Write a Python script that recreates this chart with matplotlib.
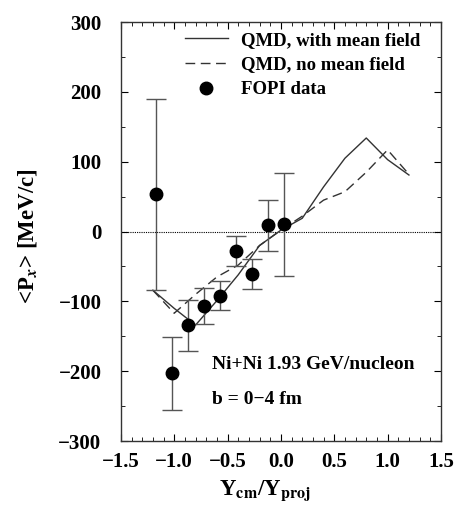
import matplotlib
matplotlib.use("Agg")
import matplotlib.pyplot as plt
from matplotlib.legend_handler import HandlerLine2D
from matplotlib.ticker import MultipleLocator

# QMD curves (rapidity bins)
y_qmd = [-1.2, -1.0, -0.8, -0.6, -0.4, -0.2, 0.0, 0.2, 0.4, 0.6, 0.8, 1.0, 1.2]
px_mf = [-84, -110, -134, -99, -62, -20, 2, 19, 64, 105, 134, 103, 81]
px_nomf = [-84, -117, -90, -65, -48, -20, 2, 22, 45, 57, 85, 117, 82]

# FOPI data
y_fopi = [-1.175, -1.025, -0.875, -0.725, -0.575, -0.425, -0.275, -0.125, 0.025]
px_fopi = [54, -203, -134, -107, -93, -28, -61, 9, 11]
px_hi = [190, -151, -98, -81, -71, -7, -40, 45, 84]
px_lo = [-84, -256, -171, -133, -113, -49, -82, -28, -63]


class MarkerRight(HandlerLine2D):
	# put the single legend marker at the right end of the handle
	def get_xdata(self, legend, xdescent, ydescent, width, height, fontsize):
		xd, xm = super().get_xdata(legend, xdescent, ydescent, width, height, fontsize)
		return xd, [-xdescent + width]


def main():
	plt.rcParams['font.family'] = ['Liberation Serif', 'DejaVu Serif']
	plt.rcParams['font.weight'] = 'bold'
	plt.rcParams['mathtext.fontset'] = 'stix'

	fig = plt.figure(figsize=(4.56, 5.14), dpi=100)
	ax = fig.add_axes([0.265, 0.142, 0.702, 0.815])

	ax.axhline(0, color='black', lw=0.8, ls=(0, (1, 1)))

	l1, = ax.plot(y_qmd, px_mf, color='#333333', lw=1.0, label='QMD, with mean field')
	l2, = ax.plot(y_qmd, px_nomf, color='#333333', lw=1.0, ls=(0, (7, 4)), label='QMD, no mean field')

	err_lo = [p - l for p, l in zip(px_fopi, px_lo)]
	err_hi = [h - p for p, h in zip(px_fopi, px_hi)]
	ax.errorbar(y_fopi, px_fopi, yerr=[err_lo, err_hi], fmt='o', color='black',
				ms=9, ecolor='#555555', elinewidth=1.0, capsize=7, capthick=1.0, zorder=3)
	l3, = ax.plot([], [], 'o', color='black', ms=9, label='FOPI data')

	ax.text(-0.65, -191, 'Ni+Ni 1.93 GeV/nucleon', fontsize=14, fontweight='bold', va='center')
	ax.text(-0.65, -241, 'b = 0\u22124 fm', fontsize=14, fontweight='bold', va='center')

	ax.legend(handles=[l1, l2, l3], loc='upper right', bbox_to_anchor=(0.958, 0.995),
			  frameon=False, fontsize=13.5, handlelength=2.25, handletextpad=0.7,
			  borderaxespad=0.0, labelspacing=0.4, numpoints=1,
			  handler_map={l3: MarkerRight()})

	ax.set_xlim(-1.5, 1.5)
	ax.set_ylim(-300, 300)
	ax.xaxis.set_major_locator(MultipleLocator(0.5))
	ax.xaxis.set_minor_locator(MultipleLocator(0.1))
	ax.yaxis.set_major_locator(MultipleLocator(100))
	ax.yaxis.set_minor_locator(MultipleLocator(50))
	ax.xaxis.set_major_formatter(plt.FuncFormatter(lambda v, p: ('%.1f' % v).replace('-', '\u2212')))
	ax.tick_params(which='both', direction='in', top=True, right=True, labelsize=15)
	ax.tick_params(axis='x', which='major', pad=8)
	ax.tick_params(axis='y', which='major', pad=14)
	ax.tick_params(which='major', length=5)
	ax.tick_params(which='minor', length=3)
	for s in ax.spines.values():
		s.set_linewidth(1.0)
		s.set_color('#333333')

	ax.set_ylabel(r'<P$_{x}$> [MeV/c]', fontsize=16.5, fontweight='bold')
	ax.set_xlabel(r'Y$_{\mathbf{cm}}$/Y$_{\mathbf{proj}}$', fontsize=16.5, fontweight='bold')
	ax.yaxis.set_label_coords(-0.255, 0.49)
	ax.xaxis.set_label_coords(0.45, -0.088)

	fig.savefig('out.png', dpi=100)


if __name__ == "__main__":
	main()
